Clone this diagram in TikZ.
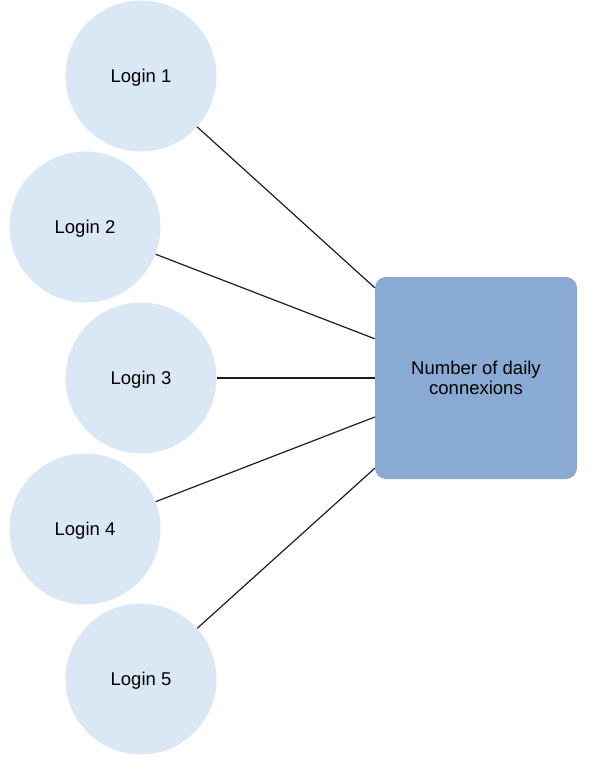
\documentclass[tikz,border=0pt]{standalone}
\usepackage{fontspec}
\setmainfont{Liberation Sans}
\definecolor{loginblue}{RGB}{218,232,246}
\definecolor{boxblue}{RGB}{137,170,210}
\definecolor{edgegray}{RGB}{30,30,30}
\usetikzlibrary{shapes,positioning,calc}

\begin{document}
\begin{tikzpicture}[x=1pt, y=-1pt]
        \useasboundingbox (0, 0) rectangle (592, 760);
        \tikzset{
            login/.style={circle, fill=loginblue, minimum size=151pt, inner sep=0pt,
                text depth=0pt, font=\fontsize{18.5}{20.7}\selectfont},
            countbox/.style={rectangle, rounded corners=11pt, fill=boxblue,
                minimum width=202pt, minimum height=202pt, align=center,
                font=\fontsize{18.5}{20.7}\selectfont},
            link/.style={draw=edgegray, line width=1.2pt}
        }
        \begin{scope}
            \node[login] (L1) at (141, 76)
            {Login 1};
            \node[login] (L2) at (85, 227)
            {Login 2};
            \node[login] (L3) at (141, 378)
            {Login 3};
            \node[login] (L4) at (85, 529)
            {Login 4};
            \node[login] (L5) at (141, 679)
            {Login 5};
            \node[countbox] (N) at (476, 378)
            {Number of daily\\connexions};
        \end{scope}

        \coordinate (c1) at ([yshift=-11pt]N.north west);
        \coordinate (c2) at ([yshift=-62pt]N.north west);
        \coordinate (c3) at (N.west);
        \coordinate (c4) at ([yshift=-39pt]N.west);
        \coordinate (c5) at ([yshift=11pt]N.south west);

        \begin{scope}[link]
            \draw (L1) -- (c1);
            \draw (L2) -- (c2);
            \draw (L3) -- (c3);
            \draw (L4) -- (c4);
            \draw (L5) -- (c5);
        \end{scope}

        \end{tikzpicture}
\end{document}
